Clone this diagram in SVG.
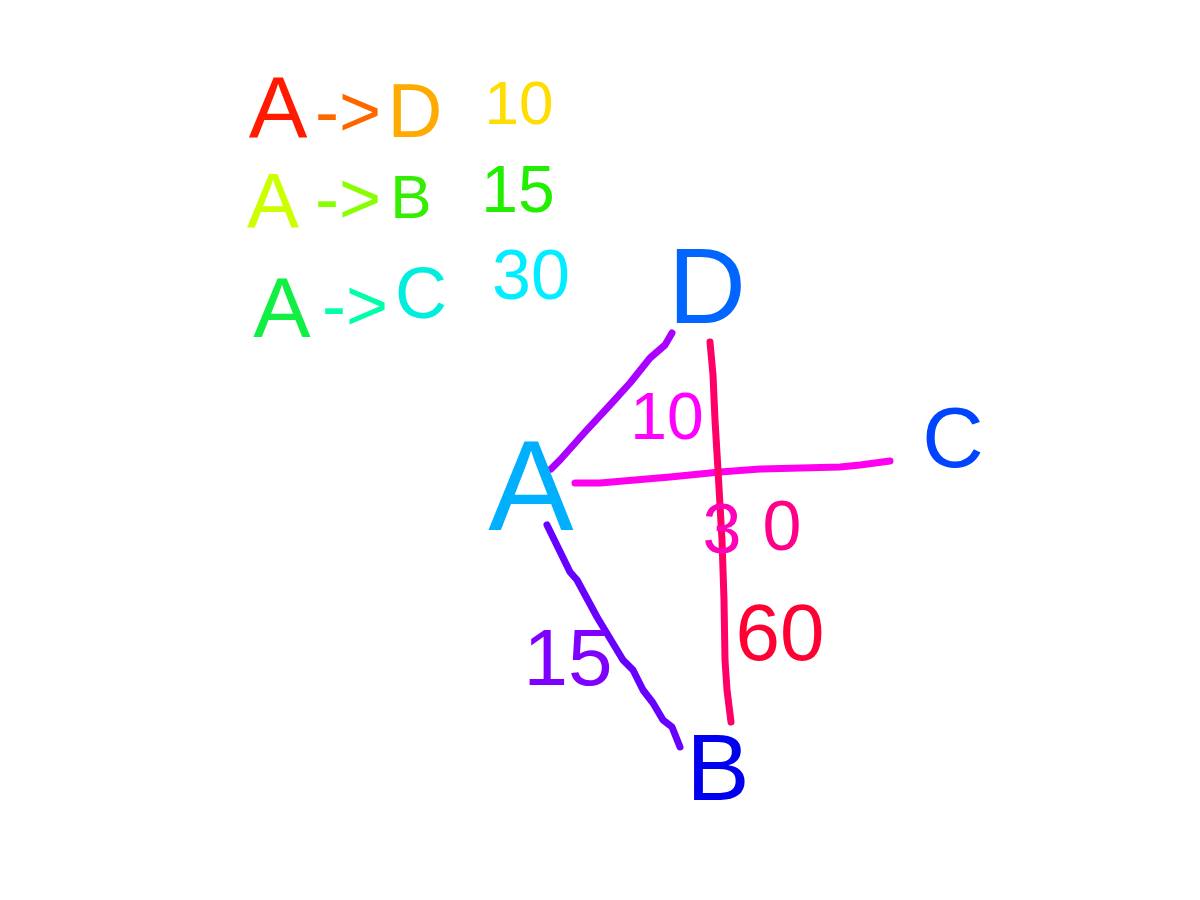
<svg xmlns="http://www.w3.org/2000/svg" width="1200" height="900" viewBox="0 0 1200 900">
<style>
.t{font-family:"Liberation Sans",Arial,sans-serif;text-anchor:middle}
.c{fill:none;stroke-width:7;stroke-linecap:round;stroke-linejoin:round}
</style>
<rect width="1200" height="900" fill="#ffffff"/>
<g id="legend">
<g id="row-AD">
<text class="t" x="278" y="138" font-size="88" fill="#ff1a00">A</text>
<text class="t" x="348" y="136" font-size="72" fill="#ff6600">-&gt;</text>
<text class="t" x="415" y="137" font-size="76" fill="#ffaa00">D</text>
<text class="t" x="519" y="124" font-size="62" fill="#ffdd00">10</text>
</g>
<g id="row-AB">
<text class="t" x="273" y="228" font-size="78" fill="#ccff00">A</text>
<text class="t" x="348" y="223" font-size="72" fill="#88ff00">-&gt;</text>
<text class="t" x="411" y="218" font-size="62" fill="#33ee00">B</text>
<text class="t" x="518" y="212" font-size="66" fill="#22ee00">15</text>
</g>
<g id="row-AC">
<text class="t" x="282" y="337" font-size="86" fill="#11ee44">A</text>
<text class="t" x="355" y="330" font-size="72" fill="#00ffaa">-&gt;</text>
<text class="t" x="421" y="318" font-size="72" fill="#00eedd">C</text>
<text class="t" x="531" y="299" font-size="70" fill="#00eeff">30</text>
</g>
</g>
<g id="connectors">
<polyline id="edge-AD" class="c" stroke="#aa00ff" points="551,469 560,460 585,432 610,405 630,383 650,358 665,345 672,333"/>
<polyline id="edge-AC" class="c" stroke="#ff00ee" points="575,483 600,483 670,477 720,472 760,469 840,467 860,465 890,461"/>
<polyline id="edge-DB" class="c" stroke="#ff0066" points="710,342 713,375 715,420 718,470 722,540 724,600 725,660 727,690 731,722"/>
<polyline id="edge-AB" class="c" stroke="#6600ff" points="547,525 570,572 577,580 597,617 623,660 633,670 643,690 653,703 663,720 672,727 680,747"/>
</g>
<g id="node-D"><text class="t" x="707" y="323" font-size="108" fill="#0066ff">D</text></g>
<g id="node-A"><text class="t" x="531" y="530" font-size="128" fill="#00b0ff">A</text></g>
<g id="node-C"><text class="t" x="953" y="467" font-size="85" fill="#0044ff">C</text></g>
<g id="node-B"><text class="t" x="718" y="800" font-size="95" fill="#0000ee">B</text></g>
<g id="edge-labels">
<text class="t" x="667" y="439" font-size="66" fill="#ff00ff">10</text>
<text class="t" x="722" y="553" font-size="70" fill="#ff00bb">3</text>
<text class="t" x="782" y="550" font-size="70" fill="#ff0088">0</text>
<text class="t" x="780" y="660" font-size="80" fill="#ff0033">60</text>
<text class="t" x="568" y="685" font-size="80" fill="#8000ff">15</text>
</g>
</svg>
